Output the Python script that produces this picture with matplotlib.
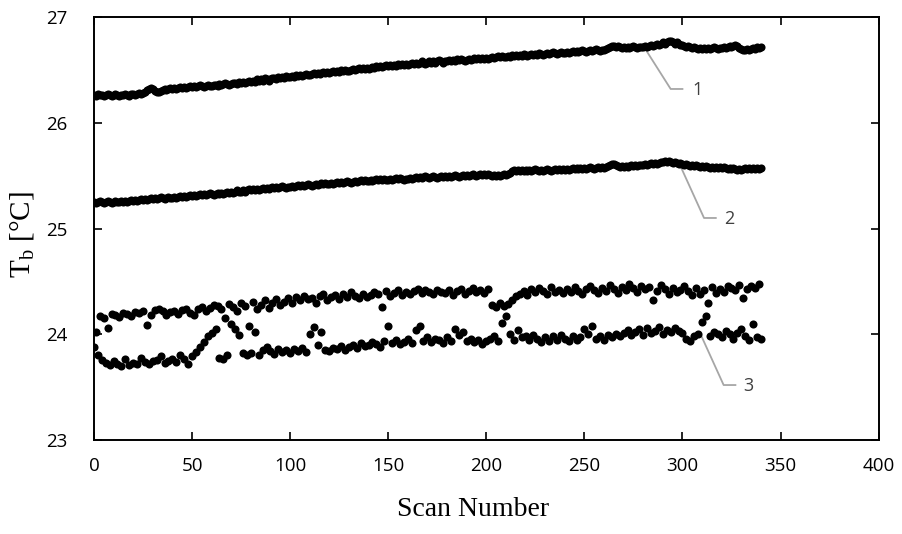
import numpy as np
import matplotlib.pyplot as plt

# brightness temperature per scan
tb_1 = [
    26.26, 26.25, 26.27, 26.26, 26.26, 26.25, 26.26, 26.27, 26.26, 26.25, 26.26, 26.27, 26.26, 26.25, 26.26, 26.26, 26.27, 26.26, 26.25, 26.27,
    26.27, 26.26, 26.27, 26.28, 26.27, 26.28, 26.29, 26.31, 26.32, 26.33, 26.32, 26.30, 26.29, 26.29, 26.30, 26.31, 26.32, 26.31, 26.32, 26.33,
    26.32, 26.33, 26.32, 26.33, 26.34, 26.33, 26.34, 26.33, 26.34, 26.35, 26.34, 26.35, 26.34, 26.35, 26.36, 26.35, 26.34, 26.35, 26.36, 26.35,
    26.35, 26.36, 26.36, 26.35, 26.37, 26.36, 26.37, 26.38, 26.37, 26.36, 26.37, 26.38, 26.38, 26.37, 26.39, 26.38, 26.39, 26.38, 26.39, 26.40,
    26.39, 26.40, 26.39, 26.41, 26.40, 26.41, 26.40, 26.42, 26.41, 26.40, 26.41, 26.42, 26.42, 26.41, 26.43, 26.42, 26.43, 26.42, 26.44, 26.43,
    26.43, 26.44, 26.43, 26.45, 26.44, 26.45, 26.44, 26.45, 26.46, 26.45, 26.45, 26.46, 26.47, 26.46, 26.47, 26.46, 26.47, 26.48, 26.47, 26.48,
    26.47, 26.48, 26.49, 26.48, 26.49, 26.48, 26.50, 26.49, 26.50, 26.49, 26.49, 26.50, 26.51, 26.50, 26.51, 26.52, 26.51, 26.52, 26.51, 26.52,
    26.51, 26.52, 26.53, 26.52, 26.54, 26.53, 26.54, 26.53, 26.54, 26.55, 26.54, 26.55, 26.54, 26.55, 26.54, 26.56, 26.55, 26.56, 26.55, 26.56,
    26.55, 26.56, 26.57, 26.56, 26.57, 26.56, 26.57, 26.58, 26.57, 26.56, 26.57, 26.58, 26.57, 26.58, 26.57, 26.58, 26.59, 26.58, 26.57, 26.58,
    26.58, 26.59, 26.58, 26.59, 26.58, 26.60, 26.59, 26.60, 26.59, 26.58, 26.59, 26.60, 26.59, 26.60, 26.61, 26.60, 26.61, 26.60, 26.61, 26.60,
    26.61, 26.60, 26.61, 26.62, 26.61, 26.62, 26.63, 26.62, 26.63, 26.62, 26.62, 26.63, 26.62, 26.64, 26.63, 26.64, 26.63, 26.64, 26.63, 26.65,
    26.64, 26.63, 26.64, 26.65, 26.64, 26.65, 26.64, 26.66, 26.65, 26.64, 26.65, 26.66, 26.65, 26.66, 26.67, 26.66, 26.65, 26.66, 26.67, 26.66,
    26.66, 26.67, 26.66, 26.67, 26.68, 26.67, 26.68, 26.67, 26.68, 26.69, 26.68, 26.67, 26.68, 26.69, 26.68, 26.69, 26.70, 26.69, 26.68, 26.69,
    26.69, 26.70, 26.71, 26.72, 26.73, 26.73, 26.72, 26.73, 26.72, 26.71, 26.72, 26.71, 26.72, 26.71, 26.72, 26.73, 26.72, 26.71, 26.72, 26.72,
    26.72, 26.73, 26.72, 26.73, 26.74, 26.73, 26.74, 26.75, 26.74, 26.75, 26.76, 26.75, 26.76, 26.77, 26.77, 26.76, 26.75, 26.76, 26.75, 26.74,
    26.74, 26.73, 26.72, 26.73, 26.72, 26.71, 26.72, 26.71, 26.70, 26.71, 26.70, 26.71, 26.70, 26.71, 26.70, 26.71, 26.72, 26.71, 26.70, 26.71,
    26.71, 26.72, 26.71, 26.72, 26.73, 26.72, 26.73, 26.74, 26.73, 26.71, 26.70, 26.69, 26.69, 26.70, 26.69, 26.70, 26.71, 26.70, 26.72, 26.71,
    26.72,
]

tb_2 = [
    25.25, 25.24, 25.25, 25.26, 25.25, 25.24, 25.25, 25.26, 25.25, 25.24, 25.25, 25.26, 25.25, 25.25, 25.26, 25.25, 25.26, 25.25, 25.26, 25.27,
    25.26, 25.27, 25.26, 25.27, 25.28, 25.27, 25.28, 25.27, 25.28, 25.29, 25.28, 25.29, 25.28, 25.29, 25.30, 25.29, 25.28, 25.29, 25.30, 25.29,
    25.29, 25.30, 25.29, 25.30, 25.31, 25.30, 25.31, 25.30, 25.31, 25.32, 25.31, 25.32, 25.31, 25.32, 25.33, 25.32, 25.33, 25.32, 25.33, 25.34,
    25.33, 25.32, 25.33, 25.34, 25.33, 25.34, 25.33, 25.34, 25.35, 25.34, 25.35, 25.34, 25.35, 25.36, 25.35, 25.35, 25.36, 25.35, 25.36, 25.37,
    25.36, 25.37, 25.36, 25.37, 25.36, 25.37, 25.38, 25.37, 25.38, 25.37, 25.38, 25.39, 25.38, 25.39, 25.38, 25.39, 25.40, 25.39, 25.38, 25.39,
    25.39, 25.40, 25.39, 25.40, 25.41, 25.40, 25.41, 25.40, 25.41, 25.42, 25.41, 25.40, 25.41, 25.42, 25.41, 25.42, 25.43, 25.42, 25.43, 25.42,
    25.42, 25.43, 25.42, 25.43, 25.44, 25.43, 25.44, 25.43, 25.44, 25.45, 25.44, 25.43, 25.44, 25.45, 25.44, 25.45, 25.46, 25.45, 25.46, 25.45,
    25.45, 25.46, 25.45, 25.46, 25.47, 25.46, 25.47, 25.46, 25.47, 25.46, 25.46, 25.47, 25.46, 25.47, 25.48, 25.47, 25.48, 25.47, 25.46, 25.47,
    25.47, 25.48, 25.47, 25.48, 25.49, 25.48, 25.49, 25.48, 25.49, 25.50, 25.49, 25.48, 25.49, 25.50, 25.49, 25.48, 25.49, 25.50, 25.49, 25.50,
    25.49, 25.50, 25.49, 25.50, 25.51, 25.50, 25.49, 25.50, 25.51, 25.50, 25.51, 25.50, 25.51, 25.52, 25.51, 25.50, 25.51, 25.52, 25.51, 25.52,
    25.51, 25.52, 25.51, 25.50, 25.51, 25.50, 25.51, 25.50, 25.51, 25.52, 25.51, 25.52, 25.53, 25.54, 25.55, 25.54, 25.55, 25.54, 25.55, 25.54,
    25.55, 25.54, 25.55, 25.54, 25.55, 25.56, 25.55, 25.54, 25.55, 25.54, 25.55, 25.56, 25.55, 25.54, 25.55, 25.56, 25.55, 25.56, 25.55, 25.56,
    25.55, 25.56, 25.55, 25.56, 25.57, 25.56, 25.57, 25.56, 25.57, 25.56, 25.57, 25.56, 25.57, 25.58, 25.57, 25.56, 25.57, 25.58, 25.57, 25.58,
    25.57, 25.58, 25.59, 25.60, 25.61, 25.61, 25.60, 25.59, 25.58, 25.59, 25.58, 25.59, 25.58, 25.59, 25.60, 25.59, 25.60, 25.59, 25.60, 25.60,
    25.60, 25.61, 25.60, 25.61, 25.62, 25.61, 25.62, 25.61, 25.62, 25.63, 25.63, 25.64, 25.63, 25.64, 25.63, 25.62, 25.63, 25.62, 25.61, 25.62,
    25.61, 25.60, 25.61, 25.60, 25.59, 25.60, 25.59, 25.60, 25.59, 25.58, 25.59, 25.58, 25.59, 25.58, 25.57, 25.58, 25.57, 25.58, 25.57, 25.58,
    25.57, 25.58, 25.57, 25.56, 25.57, 25.56, 25.57, 25.56, 25.55, 25.56, 25.55, 25.56, 25.57, 25.56, 25.57, 25.56, 25.57, 25.56, 25.57, 25.56,
    25.57,
]

tb_3 = [
    23.88, 24.02, 23.80, 24.17, 23.76, 24.15, 23.73, 24.06, 23.71, 24.19, 23.75, 24.18, 23.72, 24.16, 23.70, 24.20, 23.77, 24.19, 23.71, 24.17,
    23.73, 24.21, 23.72, 24.20, 23.78, 24.22, 23.74, 24.09, 23.72, 24.18, 23.75, 24.23, 23.76, 24.24, 23.79, 24.22, 23.73, 24.18, 23.75, 24.21,
    23.77, 24.22, 23.74, 24.19, 23.80, 24.23, 23.77, 24.24, 23.72, 24.20, 23.79, 24.18, 23.83, 24.24, 23.88, 24.26, 23.93, 24.22, 23.98, 24.25,
    24.01, 24.28, 24.05, 24.27, 23.78, 24.24, 23.77, 24.15, 23.80, 24.29, 24.10, 24.26, 24.05, 24.22, 23.99, 24.30, 23.82, 24.27, 23.80, 24.08,
    23.82, 24.31, 24.02, 24.24, 23.80, 24.28, 23.85, 24.32, 23.88, 24.25, 23.84, 24.30, 23.81, 24.33, 23.86, 24.28, 23.83, 24.31, 23.85, 24.34,
    23.82, 24.30, 23.86, 24.35, 23.84, 24.32, 23.87, 24.36, 23.83, 24.33, 24.00, 24.34, 24.07, 24.30, 23.90, 24.36, 24.02, 24.38, 23.85, 24.32,
    23.84, 24.35, 23.87, 24.37, 23.86, 24.33, 23.89, 24.38, 23.85, 24.35, 23.88, 24.40, 23.90, 24.36, 23.87, 24.34, 23.92, 24.38, 23.89, 24.35,
    23.90, 24.37, 23.93, 24.40, 23.91, 24.38, 23.88, 24.26, 23.94, 24.41, 24.08, 24.36, 23.92, 24.39, 23.95, 24.42, 23.91, 24.37, 23.93, 24.40,
    23.96, 24.38, 23.92, 24.41, 24.04, 24.43, 24.08, 24.39, 23.94, 24.42, 23.97, 24.40, 23.93, 24.38, 23.96, 24.42, 23.95, 24.40, 23.92, 24.39,
    23.97, 24.42, 23.94, 24.37, 24.05, 24.41, 23.99, 24.43, 24.02, 24.38, 23.94, 24.41, 23.96, 24.44, 23.93, 24.40, 23.95, 24.42, 23.91, 24.39,
    23.94, 24.43, 23.96, 24.28, 23.98, 24.26, 23.94, 24.30, 24.11, 24.27, 24.17, 24.29, 24.00, 24.32, 23.95, 24.36, 24.04, 24.38, 23.97, 24.41,
    23.98, 24.37, 23.95, 24.43, 23.99, 24.40, 23.96, 24.44, 23.93, 24.41, 23.97, 24.38, 23.94, 24.45, 23.98, 24.40, 23.95, 24.42, 23.99, 24.39,
    23.96, 24.43, 23.94, 24.40, 23.98, 24.45, 23.95, 24.41, 23.97, 24.38, 24.05, 24.43, 24.00, 24.46, 24.08, 24.42, 23.96, 24.39, 23.98, 24.44,
    23.95, 24.41, 23.99, 24.47, 23.97, 24.43, 24.00, 24.39, 23.98, 24.45, 24.01, 24.42, 24.04, 24.48, 23.99, 24.44, 24.02, 24.40, 24.05, 24.46,
    23.99, 24.43, 24.06, 24.45, 24.01, 24.32, 24.03, 24.41, 24.07, 24.47, 24.00, 24.43, 24.04, 24.38, 24.02, 24.44, 24.06, 24.40, 24.03, 24.42,
    24.01, 24.46, 23.96, 24.41, 23.94, 24.37, 23.98, 24.44, 24.00, 24.38, 24.12, 24.42, 24.17, 24.30, 23.98, 24.45, 24.02, 24.39, 24.00, 24.43,
    23.97, 24.40, 24.03, 24.46, 24.00, 24.44, 23.96, 24.42, 24.01, 24.47, 24.05, 24.34, 23.98, 24.43, 23.95, 24.46, 24.10, 24.44, 23.97, 24.48,
    23.96,
]

scan = np.arange(len(tb_1))

# callouts: label, point on series, elbow, end of leader, text position
callouts = [
    ("1", (281, 26.70), (294, 26.32), (300, 26.32), (307.5, 26.31)),
    ("2", (299, 25.59), (311, 25.10), (317, 25.10), (323.7, 25.09)),
    ("3", (309, 24.01), (321, 23.52), (327, 23.52), (333.8, 23.51)),
]

fig = plt.figure(figsize=(9.03, 5.34), dpi=100)
ax = fig.add_axes([0.104, 0.176, 0.869, 0.792])

for tb in (tb_1, tb_2, tb_3):
    ax.scatter(scan, tb, s=34, color="black", linewidths=0, zorder=3)

for lab, p0, p1, p2, pt in callouts:
    ax.plot([p0[0], p1[0], p2[0]], [p0[1], p1[1], p2[1]], color="#a6a6a6", lw=1.3, zorder=2)
    ax.text(pt[0], pt[1], lab, fontsize=13, family="Open Sans", color="#404040",
            ha="center", va="center")

ax.set_xlim(0, 400)
ax.set_ylim(23, 27)
ax.set_xticks(range(0, 401, 50))
ax.set_yticks([23, 24, 25, 26, 27])

for s in ax.spines.values():
    s.set_linewidth(1.4)
    s.set_color("black")

ax.tick_params(axis="both", which="both", direction="in", length=6, width=1.2,
               top=True, right=True, labelsize=13.5)
ax.tick_params(axis="y", pad=19)
ax.tick_params(axis="x", pad=12)
for lbl in ax.get_xticklabels() + ax.get_yticklabels():
    lbl.set_family("Open Sans")

ax.set_xlabel("Scan Number", fontsize=20, family="Liberation Serif")
ax.set_ylabel(r"T$_\mathregular{b}$ [°C]", fontsize=21, family="Liberation Serif")
ax.xaxis.set_label_coords(0.483, -0.135)
ax.yaxis.set_label_coords(-0.073, 0.485)

fig.savefig("out.png", dpi=100)
